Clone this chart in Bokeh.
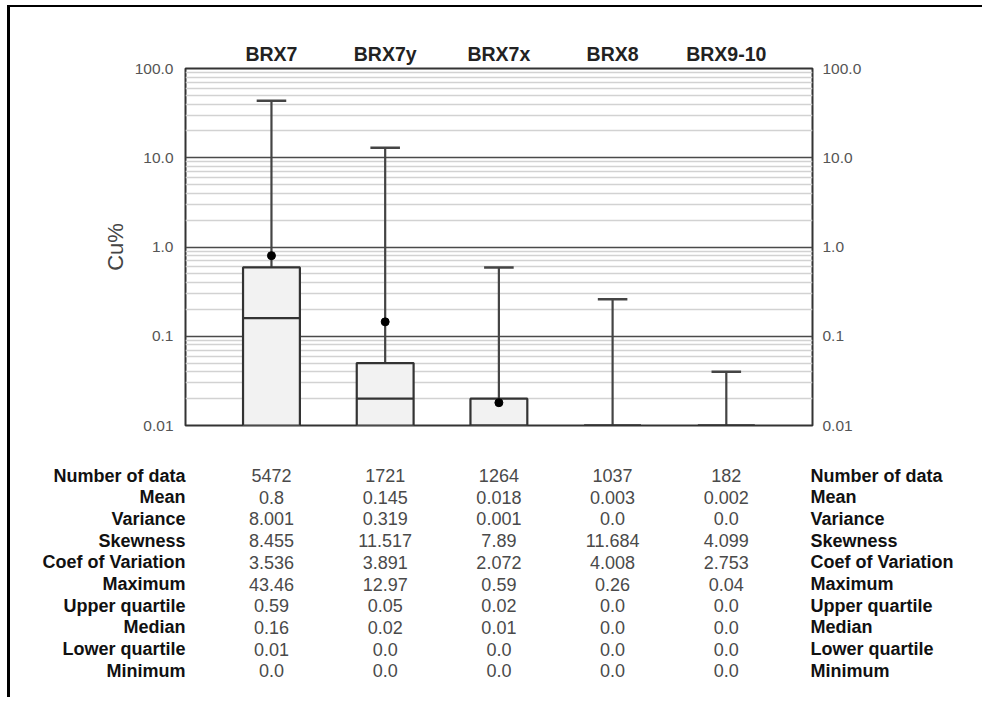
from bokeh.plotting import figure
from bokeh.layouts import column
from bokeh.models import Range1d, FixedTicker, LinearAxis, LogAxis, ColumnDataSource
from bokeh.core.properties import value
from bokeh.embed import file_html
from bokeh.resources import INLINE

# ---------------- data ----------------
categories = ["BRX7", "BRX7y", "BRX7x", "BRX8", "BRX9-10"]
n_data = [5472, 1721, 1264, 1037, 182]
mean = [0.8, 0.145, 0.018, 0.003, 0.002]
variance = [8.001, 0.319, 0.001, 0.0, 0.0]
skewness = [8.455, 11.517, 7.89, 11.684, 4.099]
coef_var = [3.536, 3.891, 2.072, 4.008, 2.753]
maximum = [43.46, 12.97, 0.59, 0.26, 0.04]
upper_q = [0.59, 0.05, 0.02, 0.0, 0.0]
median = [0.16, 0.02, 0.01, 0.0, 0.0]
lower_q = [0.01, 0.0, 0.0, 0.0, 0.0]
minimum = [0.0, 0.0, 0.0, 0.0, 0.0]

row_labels = ["Number of data", "Mean", "Variance", "Skewness", "Coef of Variation",
              "Maximum", "Upper quartile", "Median", "Lower quartile", "Minimum"]
rows = [n_data, mean, variance, skewness, coef_var, maximum, upper_q, median, lower_q, minimum]

y_major = [0.01, 0.1, 1.0, 10.0, 100.0]
y_major_labels = ["0.01", "0.1", "1.0", "10.0", "100.0"]
y_minor = [m * d for d in [0.01, 0.1, 1.0, 10.0] for m in range(2, 10)]

# ---------------- layout constants ----------------
FONT = "Liberation Sans"
W = 972
H_MAIN = 432
H_TAB = 258
ML, MR, MT, MB = 175, 170, 61, 14
X0, X1 = -0.756, 4.758
YMIN, YMAX = 0.01, 100.0

xpos = list(range(len(categories)))
clip = lambda v: max(v, YMIN)

p = figure(width=W, height=H_MAIN, y_axis_type="log",
           x_range=Range1d(X0, X1), y_range=Range1d(YMIN, YMAX),
           output_backend="svg", toolbar_location=None,
           x_axis_location=None,
           min_border_left=ML, min_border_right=MR,
           min_border_top=MT, min_border_bottom=MB)
p.outline_line_color = "#333333"
p.outline_line_width = 2
p.xgrid.visible = False
p.background_fill_color = "white"
p.border_fill_color = "white"

ticker = FixedTicker(ticks=y_major, minor_ticks=y_minor)
overrides = {t: s for t, s in zip(y_major, y_major_labels)}

p.ygrid.ticker = ticker
p.ygrid.grid_line_color = "#4a4a4a"
p.ygrid.grid_line_width = 1.5
p.ygrid.minor_grid_line_color = "#d2d2d2"
p.ygrid.minor_grid_line_width = 1.5


def style_yaxis(ax, standoff):
    ax.ticker = ticker
    ax.major_label_overrides = overrides
    ax.axis_line_color = None
    ax.major_tick_line_color = None
    ax.minor_tick_line_color = None
    ax.major_tick_out = 0
    ax.major_tick_in = 0
    ax.minor_tick_out = 0
    ax.minor_tick_in = 0
    ax.major_label_standoff = standoff
    ax.major_label_text_font = FONT
    ax.major_label_text_font_size = "15.5px"
    ax.major_label_text_color = "#555555"


style_yaxis(p.yaxis[0], 12)
p.yaxis[0].axis_label = "Cu%"
p.yaxis[0].axis_label_text_font = FONT
p.yaxis[0].axis_label_text_font_size = "22px"
p.yaxis[0].axis_label_text_font_style = "normal"
p.yaxis[0].axis_label_text_color = "#444444"
p.yaxis[0].axis_label_standoff = 4

right_axis = LogAxis()
style_yaxis(right_axis, 10)
p.add_layout(right_axis, "right")

top_axis = LinearAxis(ticker=FixedTicker(ticks=xpos),
                      major_label_overrides={i: c for i, c in zip(xpos, categories)})
top_axis.axis_line_color = None
top_axis.major_tick_line_color = None
top_axis.minor_tick_line_color = None
top_axis.major_tick_out = 0
top_axis.major_tick_in = 0
top_axis.major_label_standoff = 4
top_axis.major_label_text_font = FONT
top_axis.major_label_text_font_size = "19.5px"
top_axis.major_label_text_font_style = "bold"
top_axis.major_label_text_color = "#222222"
p.add_layout(top_axis, "above")

# boxes
BOX_W = 0.5
CAP_W = 0.26
box_src = ColumnDataSource(dict(
    x=xpos,
    top=[clip(v) for v in upper_q],
    bottom=[clip(v) for v in lower_q],
    med=[clip(v) for v in median],
    mx=maximum,
    mean=mean,
    xl=[x - BOX_W / 2 for x in xpos],
    xr=[x + BOX_W / 2 for x in xpos],
    cl=[x - CAP_W / 2 for x in xpos],
    cr=[x + CAP_W / 2 for x in xpos],
))
# whiskers (upper quartile -> maximum)
p.segment(x0="x", y0="top", x1="x", y1="mx", source=box_src,
          line_color="#444444", line_width=2.2)
p.vbar(x="x", width=BOX_W, top="top", bottom="bottom", source=box_src,
       fill_color="#f2f2f2", line_color="#333333", line_width=2.2)
# medians
p.segment(x0="xl", y0="med", x1="xr", y1="med", source=box_src,
          line_color="#333333", line_width=2.2)
# caps
p.segment(x0="cl", y0="mx", x1="cr", y1="mx", source=box_src,
          line_color="#444444", line_width=2.5)
# means
p.scatter(x="x", y="mean", source=box_src, size=8, marker="circle",
          fill_color="black", line_color="black")

# ---------------- statistics table ----------------
ppu = (W - ML - MR) / (X1 - X0)
TX0 = X0 - ML / ppu
TX1 = X1 + MR / ppu
ROW0 = 36.0
STEP = 21.7
Y_TOP = -ROW0 / STEP
Y_BOT = (H_TAB - ROW0) / STEP

t = figure(width=W, height=H_TAB, x_range=Range1d(TX0, TX1),
           y_range=Range1d(Y_BOT, Y_TOP), output_backend="svg",
           toolbar_location=None, min_border=0,
           min_border_left=0, min_border_right=0, min_border_top=0, min_border_bottom=0)
t.axis.visible = False
t.grid.visible = False
t.outline_line_color = None
t.background_fill_color = "white"
t.border_fill_color = "white"

for fig in (p, t):
    try:
        fig.frame_align = False
    except Exception:
        pass

ri = list(range(len(row_labels)))
lab_src = ColumnDataSource(dict(y=ri, label=row_labels,
                                xl=[X0] * len(ri), xr=[X1 - 2 / ppu] * len(ri)))
t.text(x="xl", y="y", text="label", source=lab_src, text_align="right",
       text_baseline="middle", text_font=value(FONT), text_font_size="18px",
       text_font_style="bold", text_color="#111111")
t.text(x="xr", y="y", text="label", source=lab_src, text_align="left",
       text_baseline="middle", text_font=value(FONT), text_font_size="18px",
       text_font_style="bold", text_color="#111111")

vx, vy, vt = [], [], []
for r, vals in enumerate(rows):
    for c, v in enumerate(vals):
        vx.append(xpos[c])
        vy.append(r)
        vt.append(str(v))
val_src = ColumnDataSource(dict(x=vx, y=vy, text=vt))
t.text(x="x", y="y", text="text", source=val_src, text_align="center",
       text_baseline="middle", text_font=value(FONT), text_font_size="18px",
       text_color="#4a4a4a")

layout = column(p, t)
layout.styles = {"border-left": "3px solid black", "border-top": "2px solid black",
                 "margin-left": "7px", "margin-top": "5px"}

open("out.html", "w").write(file_html(layout, INLINE))
